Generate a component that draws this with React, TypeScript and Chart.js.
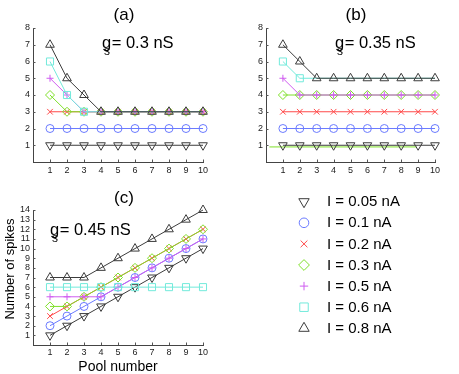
import React, { useEffect, useRef } from 'react';
import { Chart, registerables } from 'chart.js';
import { drawPoint } from 'chart.js/helpers';

Chart.register(...registerables);

const FONT = '"Liberation Sans", Arial, Helvetica, sans-serif';

// ---------- data ----------
const pools = [1, 2, 3, 4, 5, 6, 7, 8, 9, 10];
const yTicksAB = [1, 2, 3, 4, 5, 6, 7, 8];
const yTicksC = [1, 2, 3, 4, 5, 6, 7, 8, 9, 10, 11, 12, 13, 14];
const currentLabels = ['I = 0.05 nA', 'I = 0.1 nA', 'I = 0.2 nA', 'I = 0.3 nA', 'I = 0.5 nA', 'I = 0.6 nA', 'I = 0.8 nA'];
const panelTitles = ['(a)', '(b)', '(c)'];
const gsValues = ['0.3', '0.35', '0.45'];
const xAxisTitle = 'Pool number';
const yAxisTitle = 'Number of spikes';

const spikesA = [
  [1, 1, 1, 1, 1, 1, 1, 1, 1, 1],
  [2, 2, 2, 2, 2, 2, 2, 2, 2, 2],
  [3, 3, 3, 3, 3, 3, 3, 3, 3, 3],
  [4, 3, 3, 3, 3, 3, 3, 3, 3, 3],
  [5, 4, 3, 3, 3, 3, 3, 3, 3, 3],
  [6, 4, 3, 3, 3, 3, 3, 3, 3, 3],
  [7, 5, 4, 3, 3, 3, 3, 3, 3, 3],
];
const spikesB = [
  [1, 1, 1, 1, 1, 1, 1, 1, 1, 1],
  [2, 2, 2, 2, 2, 2, 2, 2, 2, 2],
  [3, 3, 3, 3, 3, 3, 3, 3, 3, 3],
  [4, 4, 4, 4, 4, 4, 4, 4, 4, 4],
  [5, 4, 4, 4, 4, 4, 4, 4, 4, 4],
  [6, 5, 5, 5, 5, 5, 5, 5, 5, 5],
  [7, 6, 5, 5, 5, 5, 5, 5, 5, 5],
];
const spikesC = [
  [1, 2, 3, 4, 5, 6, 7, 8, 9, 10],
  [2, 3, 4, 5, 6, 7, 8, 9, 10, 11],
  [3, 4, 5, 6, 7, 8, 9, 10, 11, 12],
  [4, 4, 5, 6, 7, 8, 9, 10, 11, 12],
  [5, 5, 5, 5, 6, 7, 8, 9, 10, 11],
  [6, 6, 6, 6, 6, 6, 6, 6, 6, 6],
  [7, 7, 7, 8, 9, 10, 11, 12, 13, 14],
];
// stray green line in panel (b)
const strayLineBX = [0.2, 8.9];
const strayLineBY = [0.9, 0.9];

// ---------- styles ----------
const seriesColors = ['#3c3c3c', '#6b7bff', '#ff4a4a', '#7fe02a', '#cf5cf0', '#72eadb', '#3c3c3c'];
const seriesMarkers = ['triangle', 'circle', 'crossRot', 'rectRot', 'cross', 'rect', 'triangle'];
const seriesRotation = [180, 0, 0, 0, 0, 0, 0];
const seriesRadius = [5, 4, 4, 4.5, 3.5, 5, 5];

type PanelSpec = {
  spikes: number[][];
  yMax: number;
  yTicks: number[];
  padding: { left: number; top: number; right: number; bottom: number };
  xHeight: number;
  tickPad: number;
  title: string;
  titlePos: [number, number];
  gs: string;
  gsPos: [number, number];
  extra?: boolean;
  hideSquaresUnderTriangles?: boolean;
  axisTitles?: boolean;
  legend?: boolean;
};

const decorPlugin = {
  id: 'panelDecor',
  afterDraw(chart: any, _args: any, opts: any) {
    const ctx = chart.ctx as CanvasRenderingContext2D;
    const { left, bottom } = chart.chartArea;
    const xs = chart.scales.x;
    const ys = chart.scales.y;
    ctx.save();
    // inward tick marks
    ctx.strokeStyle = '#555';
    ctx.lineWidth = 1;
    ctx.beginPath();
    for (const t of xs.ticks) {
      const px = Math.round(xs.getPixelForValue(t.value)) + 0.5;
      ctx.moveTo(px, bottom);
      ctx.lineTo(px, bottom - 2.5);
    }
    for (const t of ys.ticks) {
      const py = Math.round(ys.getPixelForValue(t.value)) + 0.5;
      ctx.moveTo(left, py);
      ctx.lineTo(left + 2.5, py);
    }
    ctx.stroke();

    ctx.fillStyle = '#000';
    // panel title
    ctx.font = `17px ${FONT}`;
    ctx.textAlign = 'center';
    ctx.textBaseline = 'middle';
    ctx.fillText(opts.title, opts.titlePos[0], opts.titlePos[1]);

    // g_s annotation
    ctx.textAlign = 'left';
    ctx.textBaseline = 'alphabetic';
    const [gx, gy] = opts.gsPos;
    ctx.font = `16.5px ${FONT}`;
    ctx.fillText('g', gx, gy);
    const gw = ctx.measureText('g').width;
    ctx.fillText(`= ${opts.gs} nS`, gx + gw + 0.5, gy);
    ctx.font = `12px ${FONT}`;
    ctx.fillText('s', gx + 2, gy + 7);

    if (opts.axisTitles) {
      ctx.font = `14px ${FONT}`;
      ctx.textAlign = 'center';
      ctx.textBaseline = 'middle';
      ctx.fillText(xAxisTitle, 118, 367);
      ctx.save();
      ctx.translate(10, 269);
      ctx.rotate(-Math.PI / 2);
      ctx.font = `13px ${FONT}`;
      ctx.fillText(yAxisTitle, 0, 0);
      ctx.restore();
    }

    if (opts.legend) {
      for (let i = 0; i < currentLabels.length; i++) {
        const y = 201.7 + 21.1 * i;
        ctx.strokeStyle = seriesColors[i];
        ctx.fillStyle = 'rgba(0,0,0,0)';
        ctx.lineWidth = 1;
        drawPoint(ctx, {
          pointStyle: seriesMarkers[i],
          rotation: seriesRotation[i],
          radius: seriesRadius[i] * 1.2,
          borderWidth: 1,
        } as any, 304, y);
        ctx.fillStyle = '#000';
        ctx.font = `15px ${FONT}`;
        ctx.textAlign = 'left';
        ctx.textBaseline = 'middle';
        ctx.fillText(currentLabels[i], 327, y + 0.5);
      }
    }
    ctx.restore();
  },
};

function buildConfig(p: PanelSpec): any {
  const last = p.spikes.length - 1;
  const datasets: any[] = p.spikes.map((arr, i) => ({
    label: currentLabels[i],
    data: pools.map((x, j) => ({ x, y: arr[j] })),
    borderColor: seriesColors[i],
    backgroundColor: 'rgba(0,0,0,0)',
    borderWidth: 1,
    pointStyle: seriesMarkers[i],
    pointRotation: seriesRotation[i],
    pointRadius: (p.hideSquaresUnderTriangles && i === last - 1)
      ? arr.map((v, j) => (v === p.spikes[last][j] ? 0 : seriesRadius[i]))
      : seriesRadius[i],
    pointBorderColor: seriesColors[i],
    pointBackgroundColor: 'rgba(0,0,0,0)',
    pointBorderWidth: 1,
    tension: 0,
    clip: false,
    order: -i,
  }));
  if (p.extra) {
    datasets.push({
      label: '',
      data: strayLineBX.map((x, j) => ({ x, y: strayLineBY[j] })),
      borderColor: seriesColors[3],
      borderWidth: 1,
      pointRadius: 0,
      clip: false,
      order: 5,
    });
  }
  const tickFont = { family: FONT, size: 9 };
  return {
    type: 'line',
    data: { datasets },
    options: {
      animation: false,
      responsive: false,
      devicePixelRatio: 1,
      events: [],
      layout: { padding: p.padding },
      plugins: {
        legend: { display: false },
        tooltip: { enabled: false },
        panelDecor: {
          title: p.title,
          titlePos: p.titlePos,
          gs: p.gs,
          gsPos: p.gsPos,
          axisTitles: p.axisTitles,
          legend: p.legend,
        },
      },
      scales: {
        x: {
          type: 'linear',
          min: 0,
          max: 10,
          afterBuildTicks: (s: any) => { s.ticks = pools.map((v) => ({ value: v })); },
          afterFit: (s: any) => { s.height = p.xHeight; },
          ticks: { font: tickFont, color: '#222', padding: p.tickPad, maxRotation: 0, autoSkip: false },
          grid: { display: false, drawTicks: false },
          border: { display: true, color: '#444', width: 1 },
        },
        y: {
          type: 'linear',
          min: 0,
          max: p.yMax,
          afterBuildTicks: (s: any) => { s.ticks = p.yTicks.map((v) => ({ value: v })); },
          afterFit: (s: any) => { s.width = 33; },
          ticks: { font: tickFont, color: '#222', padding: 3, autoSkip: false },
          grid: { display: false, drawTicks: false },
          border: { display: true, color: '#444', width: 1 },
        },
      },
    },
    plugins: [decorPlugin],
  };
}

const panels: PanelSpec[] = [
  {
    spikes: spikesA, yMax: 8, yTicks: yTicksAB, hideSquaresUnderTriangles: true,
    padding: { left: 0, top: 28, right: 256, bottom: 192 }, xHeight: 20, tickPad: 3,
    title: panelTitles[0], titlePos: [124, 15], gs: gsValues[0], gsPos: [102, 47.5],
  },
  {
    spikes: spikesB, yMax: 8, yTicks: yTicksAB, extra: true, hideSquaresUnderTriangles: true,
    padding: { left: 233, top: 28, right: 24, bottom: 192 }, xHeight: 20, tickPad: 3,
    title: panelTitles[1], titlePos: [356, 15], gs: gsValues[1], gsPos: [335, 48],
  },
  {
    spikes: spikesC, yMax: 14, yTicks: yTicksC,
    padding: { left: 0, top: 210, right: 256, bottom: 0 }, xHeight: 29, tickPad: 2,
    title: panelTitles[2], titlePos: [124, 198], gs: gsValues[2], gsPos: [50, 235],
    axisTitles: true, legend: true,
  },
];

export default function App() {
  const refs = [useRef<HTMLCanvasElement>(null), useRef<HTMLCanvasElement>(null), useRef<HTMLCanvasElement>(null)];
  useEffect(() => {
    const charts = panels.map((p, i) => new Chart(refs[i].current as HTMLCanvasElement, buildConfig(p)));
    return () => charts.forEach((c) => c.destroy());
  }, []);
  return (
    <div style={{ position: 'fixed', left: 0, top: 0, width: 459, height: 374, background: '#fff' }}>
      {refs.map((r, i) => (
        <canvas key={i} ref={r} width={459} height={374}
          style={{ position: 'absolute', left: 0, top: 0, width: 459, height: 374 }} />
      ))}
    </div>
  );
}
